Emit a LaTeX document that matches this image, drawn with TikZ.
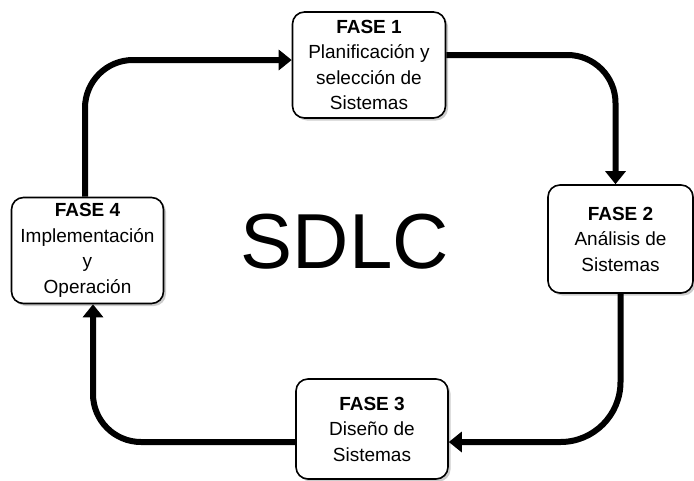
\documentclass[tikz,border=0pt]{standalone}
\usepackage{fontspec}
\setmainfont{Liberation Sans}
\usepackage{tikz}
\usetikzlibrary{positioning, arrows.meta, shadows}
\tikzstyle{ph}=[%
      rectangle, rounded corners=12pt, draw=black, line width=1.6pt, fill=white,
      drop shadow={shadow xshift=2.5pt, shadow yshift=-2.5pt, opacity=0.4},
      minimum height=106pt, minimum width=152pt, inner sep=2pt, align=center,
      font=\fontsize{19}{25.5}\selectfont
]
\tikzstyle{fl}=[%
      line width=6pt, rounded corners=48pt, -{Triangle[length=13pt,width=20pt]}
]

\begin{document}
\begin{tikzpicture}[x=1pt, y=-1pt]
    \useasboundingbox (0,0) rectangle (694,480);

    \node[ph, minimum width=153pt]                        (f1) at (369,65) {\textbf{FASE 1}\\Planificación y\\selección de\\Sistemas};
    \node[ph, minimum width=145pt, minimum height=108pt]  (f2) at (620.5,239) {\textbf{FASE 2}\\Análisis de\\Sistemas};
    \node[ph, minimum height=100pt]                       (f3) at (372,429) {\textbf{FASE 3}\\Diseño de\\Sistemas};
    \node[ph, minimum width=152pt, minimum height=106pt]  (f4) at (87.5,250.5) {\textbf{FASE 4}\\Implementación\\y\\Operación};
    \node[font=\fontsize{78}{80}\selectfont]              (sdlc) at (345,242) {SDLC};

    \draw[fl] ([xshift=-2.5pt]f4.north) |- ([yshift=5pt]f1.west);
    \draw[fl] ([yshift=10pt]f1.east) -| ([xshift=-5pt]f2.north);
    \draw[fl, rounded corners=60pt] (f2.south) |- ([yshift=-13pt]f3.east);
    \draw[fl] ([yshift=-13pt]f3.west) -| ([xshift=5.5pt]f4.south);

\end{tikzpicture}
\end{document}
